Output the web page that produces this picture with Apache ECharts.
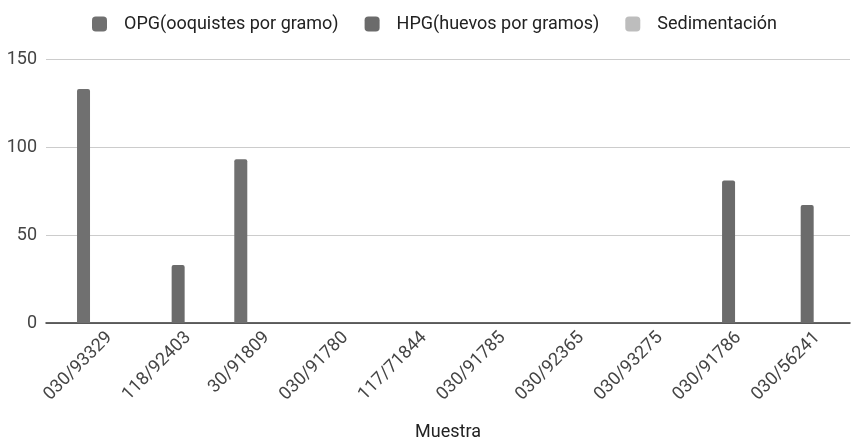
<!DOCTYPE html>
<html>
<head>
<meta charset="utf-8">
<script src="https://cdn.jsdelivr.net/npm/echarts@6/dist/echarts.min.js"></script>
<style>html,body{margin:0;padding:0;background:#fff;}#c{width:851px;height:443px;}</style>
</head>
<body>
<div id="c"></div>
<script>
const categories = ['030/93329','118/92403','30/91809','030/91780','117/71844','030/91785','030/92365','030/93275','030/91786','030/56241'];
const seriesNames = ['OPG(ooquistes por gramo)','HPG(huevos por gramos)','Sedimentación'];
const opg = [133, 0, 93, 0, 0, 0, 0, 0, 0, 0];
const hpg = [0, 33, 0, 0, 0, 0, 0, 0, 81, 67];
const sedimentacion = [0, 0, 0, 0, 0, 0, 0, 0, 0, 0];
const yTicks = [0, 50, 100, 150];

const font = 'Roboto, Arial, sans-serif';
const chart = echarts.init(document.getElementById('c'), null, {renderer: 'canvas'});
const colors = ['#707070', '#6b6b6b', '#bdbdbd'];
const gridBase = {top: 59, bottom: 120, containLabel: false, outerBoundsMode: 'none'};
const option = {
  animation: false,
  color: colors,
  legend: {
    top: 10, left: 87,
    itemWidth: 15, itemHeight: 15, itemGap: 26,
    icon: 'roundRect',
    textStyle: {fontFamily: font, fontSize: 18, color: '#222', padding: [0, 0, 0, 12]},
    data: seriesNames
  },
  grid: [
    Object.assign({left: 46, right: 1}, gridBase),
    Object.assign({left: 60.2, right: 4.5}, gridBase),
    Object.assign({left: 70.2, right: -5.5}, gridBase)
  ],
  xAxis: [
    {
      type: 'category', gridIndex: 0, data: categories,
      axisLine: {show: true, lineStyle: {color: '#333', width: 1.5}},
      axisTick: {show: false}, axisLabel: {show: false},
      name: 'Muestra', nameLocation: 'middle', nameGap: 100,
      nameTextStyle: {fontFamily: font, fontSize: 18, color: '#222'}
    },
    {
      type: 'category', gridIndex: 1, data: categories,
      axisLine: {show: false}, axisTick: {show: false}, axisLabel: {show: false}
    },
    {
      type: 'category', gridIndex: 2, data: categories,
      axisLine: {show: false}, axisTick: {show: false},
      axisLabel: {rotate: 45, margin: 12, fontFamily: font, fontSize: 18, color: '#444', interval: 0}
    }
  ],
  yAxis: [
    {
      type: 'value', gridIndex: 0, min: yTicks[0], max: yTicks[yTicks.length-1], interval: 50,
      axisLine: {show: false}, axisTick: {show: false},
      axisLabel: {fontFamily: font, fontSize: 18, color: '#444', margin: 9},
      splitLine: {lineStyle: {color: '#cccccc', width: 1}}
    },
    {
      type: 'value', gridIndex: 1, min: yTicks[0], max: yTicks[yTicks.length-1], interval: 50,
      show: false, splitLine: {show: false}
    },
    {
      type: 'value', gridIndex: 2, min: yTicks[0], max: yTicks[yTicks.length-1], interval: 50,
      show: false, splitLine: {show: false}
    }
  ],
  series: [opg, hpg, sedimentacion].map((d, i) => ({
    name: seriesNames[i], type: 'bar', xAxisIndex: 1, yAxisIndex: 1,
    data: d, barWidth: 13, barGap: '23%',
    itemStyle: {color: colors[i], borderRadius: [2, 2, 0, 0]}
  }))
};
chart.setOption(option);
</script>
</body>
</html>
